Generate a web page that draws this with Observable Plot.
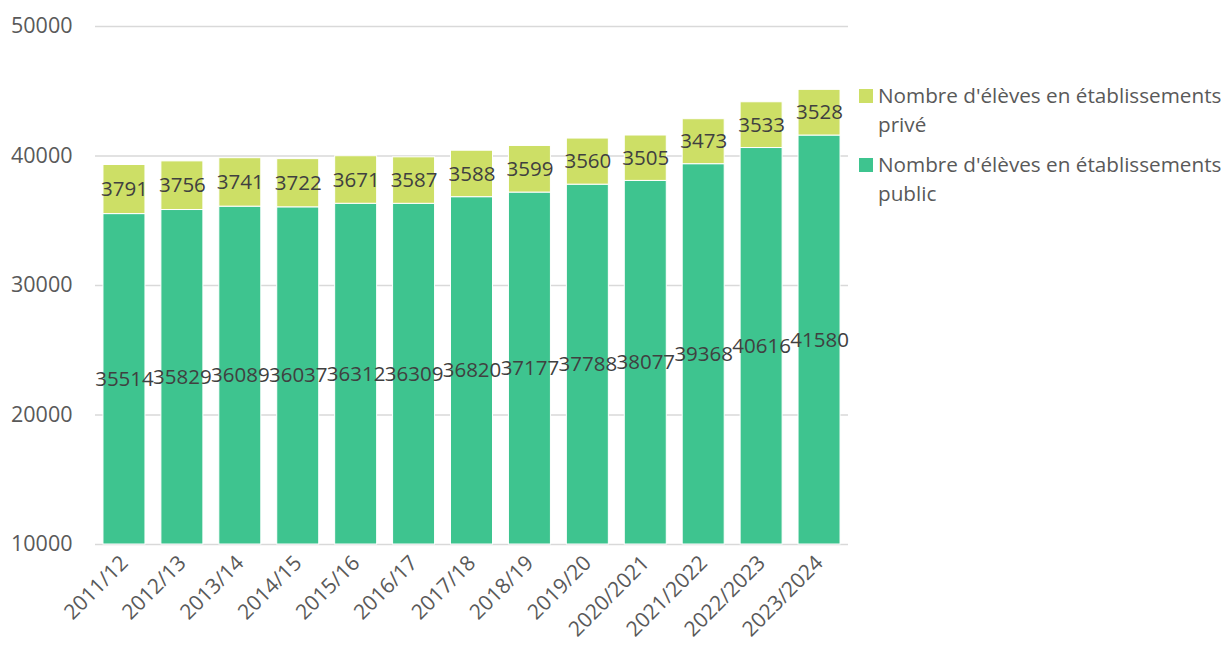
<!DOCTYPE html>
<html><head><meta charset="utf-8">
<script src="https://cdn.jsdelivr.net/npm/d3@7"></script>
<script src="https://cdn.jsdelivr.net/npm/@observablehq/plot@0.6"></script>
<style>
body{margin:0;background:#fff;font-family:"Open Sans",sans-serif;}
#wrap{position:relative;width:1228px;height:651px;}
#legend{position:absolute;left:859px;top:81px;color:#595959;font-size:20.7px;line-height:29px;}
.item{display:flex;align-items:flex-start;margin-bottom:11px;}
.sw{width:14px;height:14px;margin-top:8px;margin-right:5px;flex:none;}
</style></head><body><div id="wrap"><div id="legend"></div></div>
<script>
const years = ["2011/12","2012/13","2013/14","2014/15","2015/16","2016/17","2017/18","2018/19","2019/20","2020/2021","2021/2022","2022/2023","2023/2024"];
const publicValues = [35514,35829,36089,36037,36312,36309,36820,37177,37788,38077,39368,40616,41580];
const privateValues = [3791,3756,3741,3722,3671,3587,3588,3599,3560,3505,3473,3533,3528];
const seriesNames = ["Nombre d'élèves en établissements public","Nombre d'élèves en établissements privé"];
const colors = ["#3EC48F","#CDDF66"];
const yTicks = [10000,20000,30000,40000,50000];
const axisMin = 10000;

const rows = [];
years.forEach((yr,i)=>{
  rows.push({year:yr, series:seriesNames[0], y1:axisMin, y2:publicValues[i], label:publicValues[i]});
  rows.push({year:yr, series:seriesNames[1], y1:publicValues[i], y2:publicValues[i]+privateValues[i], label:privateValues[i]});
});

const chart = Plot.plot({
  width:1228, height:651,
  marginLeft:95, marginRight:380, marginTop:26, marginBottom:107,
  style:{fontFamily:"Open Sans", fontSize:"20px", color:"#595959", background:"#fff"},
  x:{domain:years, paddingInner:0.275, paddingOuter:0.1375, round:false, label:null},
  y:{domain:[10000,50000], label:null},
  color:{domain:seriesNames, range:colors},
  marks:[
    Plot.gridY(yTicks,{stroke:"#d9d9d9", strokeOpacity:1, strokeWidth:1.5}),
    Plot.barY(rows,{x:"year", y1:"y1", y2:"y2", fill:"series", stroke:"white", strokeWidth:1}),
    Plot.text(rows,{x:"year", y:d=>(d.y1+d.y2)/2, text:d=>String(d.label), fill:"#404040", fontSize:20.5}),
    Plot.axisY(yTicks,{tickSize:0, tickPadding:23, label:null, tickFormat:d=>String(d), fill:"#595959", fontSize:21.5}),
    Plot.axisX({tickSize:0, tickPadding:15, tickRotate:-45, label:null, fill:"#595959", fontSize:21})
  ]
});
document.getElementById("wrap").prepend(chart);

const legend = document.getElementById("legend");
[[colors[1],"Nombre d'élèves en établissements","privé"],[colors[0],"Nombre d'élèves en établissements","public"]].forEach(([c,l1,l2])=>{
  const it = document.createElement("div"); it.className="item";
  it.innerHTML = `<div class="sw" style="background:${c}"></div><div>${l1}<br>${l2}</div>`;
  legend.appendChild(it);
});
</script></body></html>
